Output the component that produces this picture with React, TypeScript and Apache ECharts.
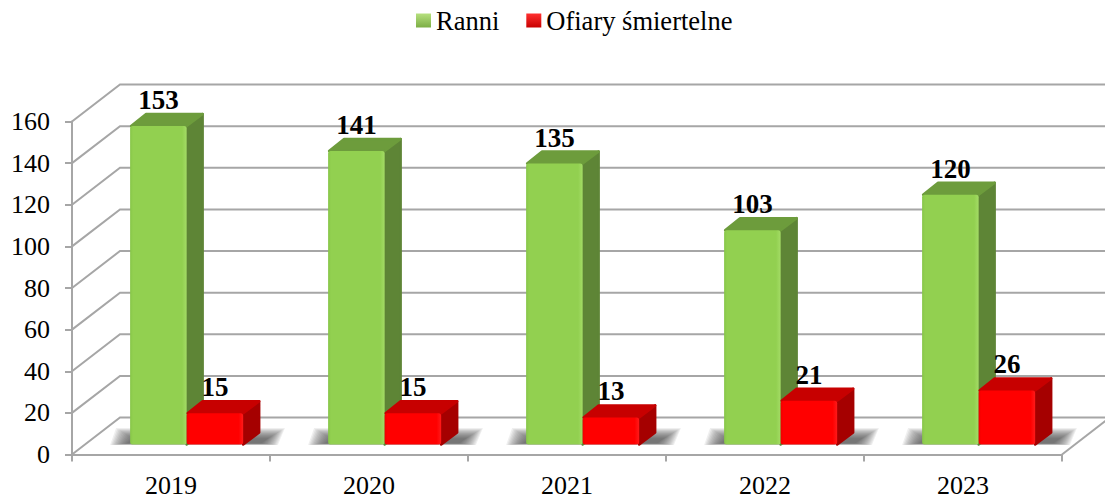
import React, { useEffect, useRef } from "react";
import * as echarts from "echarts";

const categories = ["2019", "2020", "2021", "2022", "2023"];
const ranni = [153, 141, 135, 103, 120];
const ofiary = [15, 15, 13, 21, 26];
const gridTicks = [0, 20, 40, 60, 80, 100, 120, 140, 160];
const serif = '"Liberation Serif", "Times New Roman", serif';

const DX = 48;
const DY = -37;
const GRID = "#a6a6a6";

const vGrad = (a: string, b: string) =>
  new echarts.graphic.LinearGradient(0, 0, 0, 1, [
    { offset: 0, color: a },
    { offset: 1, color: b },
  ]);

const hFront = (edge: string, mid: string, light: string) =>
  new echarts.graphic.LinearGradient(0, 0, 1, 0, [
    { offset: 0, color: edge },
    { offset: 0.05, color: mid },
    { offset: 0.92, color: mid },
    { offset: 1, color: light },
  ]);

function barRender(slot: number, front: any, side: string, top: string) {
  return (_params: any, api: any) => {
    const i = api.value(0);
    const v = api.value(1);
    const band = api.size([1, 0])[0];
    const w = band * 0.2855;
    const c = api.coord([i, 0]);
    const t = api.coord([i, v]);
    const x0 = c[0] + band * 0.079 + (slot - 1) * w;
    const yB = c[1] - 10;
    const yT = t[1] - 10;
    const dx = 16;
    const dy = -12;
    return {
      type: "group",
      children: [
        {
          type: "polygon",
          shape: { points: [[x0 + w, yT], [x0 + w + dx, yT + dy], [x0 + w + dx, yB + dy], [x0 + w, yB]] },
          style: { fill: side, stroke: side, lineWidth: 2.5, lineJoin: "round" },
        },
        {
          type: "polygon",
          shape: { points: [[x0 + 1, yT], [x0 + dx, yT + dy], [x0 + w + dx, yT + dy], [x0 + w, yT]] },
          style: { fill: top, stroke: top, lineWidth: 2.5, lineJoin: "round" },
        },
        {
          type: "rect",
          shape: { x: x0, y: yT, width: w, height: yB - yT, r: 2.5 },
          style: { fill: front },
        },
        {
          type: "text",
          style: {
            x: x0 + w / 2,
            y: yT - 26,
            text: String(v),
            align: "center",
            verticalAlign: "middle",
            fontFamily: serif,
            fontWeight: "bold",
            fontSize: 27,
            fill: "#000",
          },
        },
      ],
    };
  };
}

function frameRender(params: any, api: any) {
  const v = api.value(0);
  const y = api.coord([0, v])[1];
  const { x, width } = params.coordSys;
  const lineStyle = { fill: "none", stroke: GRID, lineWidth: 2 };
  const children: any[] = [
    {
      type: "polyline",
      shape: { points: [[x, y], [x + DX, y + DY], [x + width + DX, y + DY]] },
      style: lineStyle,
    },
  ];
  if (v === 0) {
    children.push({
      type: "line",
      shape: { x1: x + width, y1: y, x2: x + width + DX, y2: y + DY },
      style: lineStyle,
    });
  }
  return { type: "group", children };
}

function shadowRender(_params: any, api: any) {
  const i = api.value(0);
  const c = api.coord([i, 0]);
  const yB = c[1] - 10;
  const children: any[] = [];
  const layers = 14;
  for (let k = 0; k < layers; k++) {
    const f = layers - 1 - k;
    const e = f * 1.3;
    const ey = f * 0.8;
    children.push({
      type: "polygon",
      shape: {
        points: [
          [c[0] - 38 - e, yB - 6 - ey],
          [c[0] + 97 + e, yB - 6 - ey],
          [c[0] + 90 + e, yB - 1 + ey * 0.15],
          [c[0] - 44 - e, yB - 1 + ey * 0.15],
        ],
      },
      style: { fill: "rgba(70,70,70,0.085)" },
    });
  }
  return { type: "group", children };
}

export default function App() {
  const ref = useRef<HTMLDivElement>(null);

  useEffect(() => {
    const chart = echarts.init(ref.current!, undefined, { renderer: "svg" });
    const greenFront = hFront("#86c548", "#92d050", "#a4dc66");
    const redFront = hFront("#f00000", "#ff0000", "#ff1a1a");

    chart.setOption({
      animation: false,
      backgroundColor: "#ffffff",
      legend: {
        left: 411,
        top: 2,
        itemWidth: 15,
        itemHeight: 14,
        itemGap: 27,
        icon: "rect",
        data: ["Ranni", "Ofiary śmiertelne"],
        textStyle: { fontFamily: serif, fontSize: 26.5, color: "#000" },
      },
      grid: { left: 72, right: 43, top: 121.5, bottom: 44.5 },
      xAxis: {
        type: "category",
        data: categories,
        axisLine: { lineStyle: { color: GRID, width: 2 } },
        axisTick: { show: true, length: 7, lineStyle: { color: GRID, width: 2 } },
        axisLabel: { fontFamily: serif, fontSize: 26, color: "#000", margin: 18 },
        splitLine: { show: false },
      },
      yAxis: {
        type: "value",
        min: 0,
        max: 160,
        interval: 20,
        axisLine: { show: true, lineStyle: { color: GRID, width: 2 } },
        axisTick: { show: true, length: 7, lineStyle: { color: GRID, width: 2 } },
        axisLabel: { fontFamily: serif, fontSize: 26, color: "#000", margin: 22 },
        splitLine: { show: false },
      },
      series: [
        {
          type: "custom",
          name: "frame",
          silent: true,
          z: 1,
          clip: false,
          data: gridTicks.map((t) => [t]),
          encode: { y: 0 },
          renderItem: frameRender,
        },
        {
          type: "custom",
          name: "shadow",
          silent: true,
          z: 2,
          clip: false,
          data: categories.map((_, i) => [i]),
          encode: { x: 0 },
          renderItem: shadowRender,
        },
        {
          type: "custom",
          name: "Ranni",
          z: 3,
          clip: false,
          itemStyle: { color: vGrad("#b6e07e", "#7cae45") },
          data: ranni.map((v, i) => [i, v]),
          encode: { x: 0, y: 1 },
          renderItem: barRender(0, greenFront, "#5e8536", "#6d9c3c"),
        },
        {
          type: "custom",
          name: "Ofiary śmiertelne",
          z: 4,
          clip: false,
          itemStyle: { color: vGrad("#ff3030", "#c80000") },
          data: ofiary.map((v, i) => [i, v]),
          encode: { x: 0, y: 1 },
          renderItem: barRender(1, redFront, "#a50000", "#c70000"),
        },
      ],
    });
    return () => chart.dispose();
  }, []);

  return (
    <div
      ref={ref}
      style={{ position: "fixed", left: 0, top: 0, width: 1105, height: 499, overflow: "hidden" }}
    />
  );
}
